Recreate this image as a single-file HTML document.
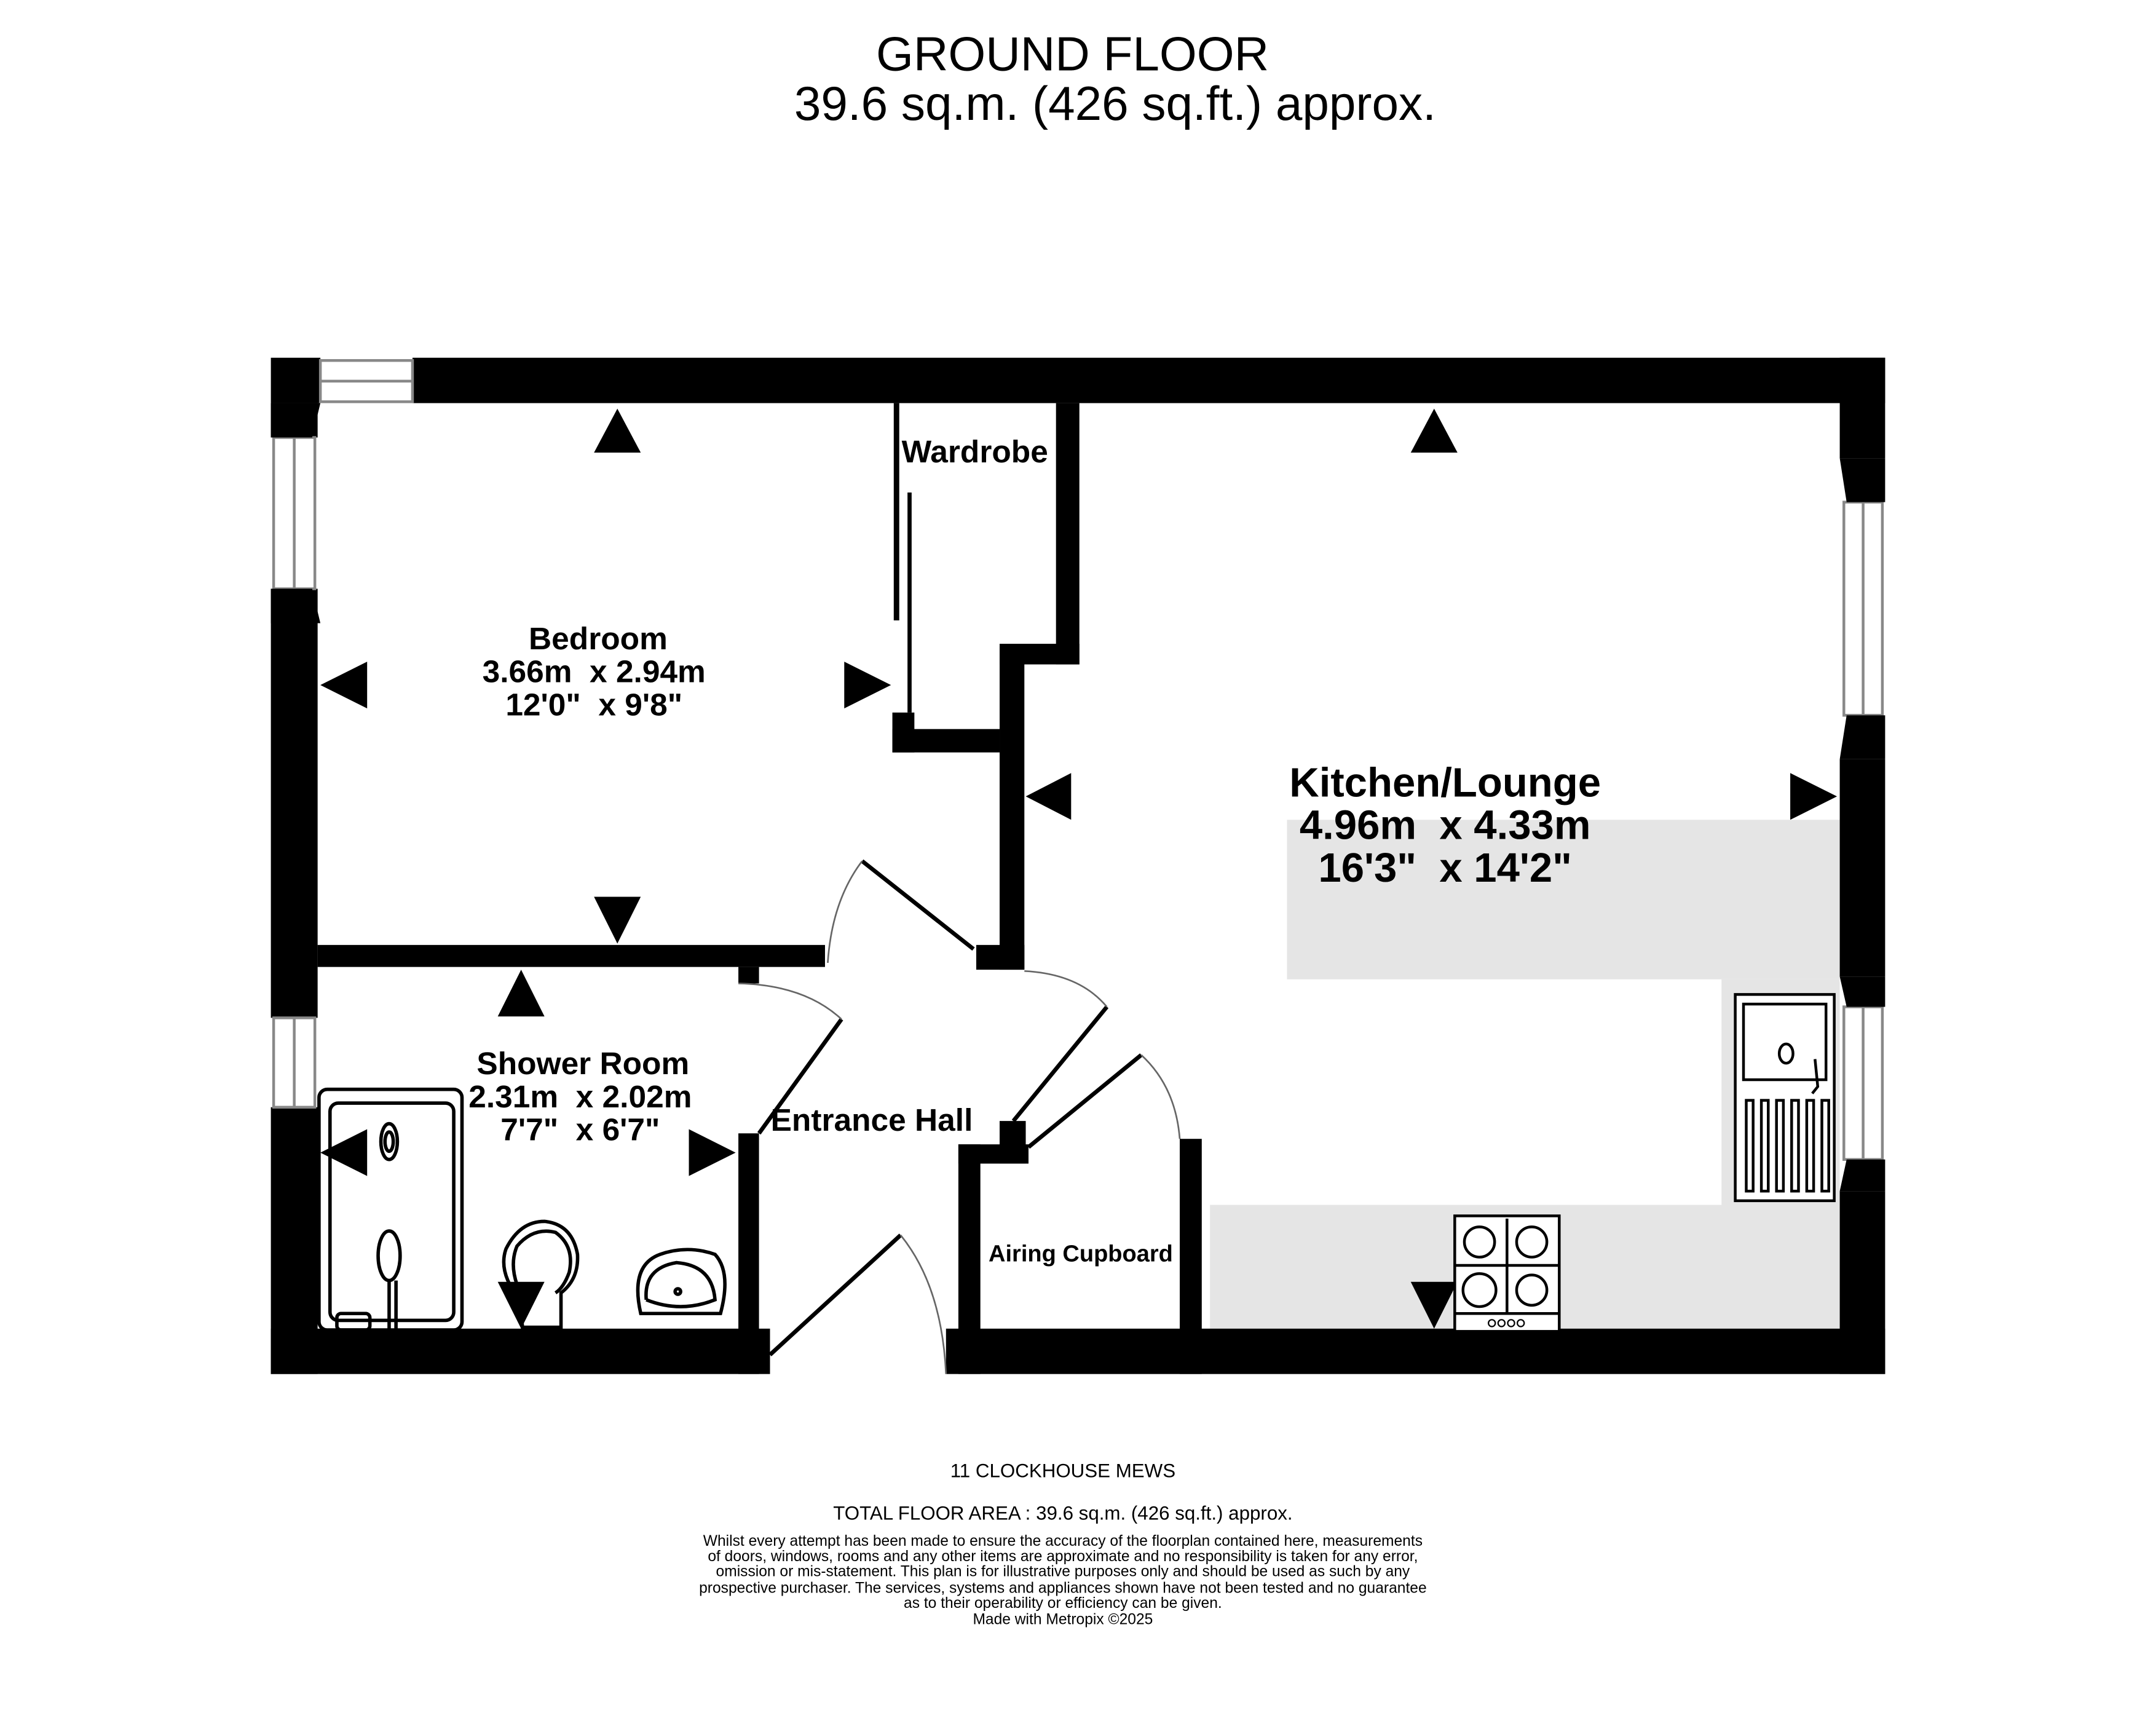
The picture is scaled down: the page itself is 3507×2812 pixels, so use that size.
<!DOCTYPE html>
<html><head><meta charset="utf-8"><style>html,body{margin:0;padding:0;background:#fff}svg{display:block}</style></head>
<body>
<svg width="3507" height="2812" viewBox="0 0 1568 1257" xmlns="http://www.w3.org/2000/svg" font-family="Liberation Sans, sans-serif">
<rect width="1568" height="1257" fill="#fff"/>
<text x="780" y="51" font-size="35" text-anchor="middle">GROUND FLOOR</text>
<text x="811" y="87" font-size="35" text-anchor="middle">39.6 sq.m. (426 sq.ft.) approx.</text>

<g fill="#e5e5e5">
<rect x="936" y="596" width="402" height="116"/>
<rect x="1252" y="712" width="86" height="164"/>
<rect x="880" y="876" width="458" height="90"/>
</g>

<g fill="#000">
<rect x="197" y="260" width="36" height="33"/>
<rect x="300" y="260" width="1071" height="33"/>
<rect x="197" y="293" width="34" height="25"/>
<rect x="197" y="428" width="34" height="312"/>
<rect x="197" y="805" width="34" height="194"/>
<rect x="1338" y="260" width="33" height="73"/>
<rect x="1338" y="552" width="33" height="158"/>
<rect x="1338" y="866" width="33" height="133"/>
<rect x="197" y="966" width="363" height="33"/>
<rect x="688" y="966" width="683" height="33"/>
<rect x="231" y="687" width="369" height="16"/>
<rect x="537" y="703" width="15" height="12"/>
<rect x="727" y="470" width="18" height="235"/>
<rect x="710" y="687" width="35" height="18"/>
<rect x="768" y="293" width="17" height="190"/>
<rect x="727" y="468" width="58" height="15"/>
<rect x="649" y="530" width="78" height="17"/>
<rect x="649" y="518" width="16" height="29"/>
<rect x="650" y="293" width="4" height="158"/>
<rect x="660" y="358" width="3" height="160"/>
<rect x="537" y="824" width="15" height="175"/>
<rect x="697" y="832" width="16" height="167"/>
<rect x="697" y="832" width="51" height="14"/>
<rect x="727" y="815" width="19" height="31"/>
<rect x="858" y="828" width="16" height="171"/>
<polygon points="449,297 432,329 466,329"/>
<polygon points="233,498 267,481 267,515"/>
<polygon points="648,498 614,481 614,515"/>
<polygon points="449,686 432,652 466,652"/>
<polygon points="1043,297 1026,329 1060,329"/>
<polygon points="746,579 779,562 779,596"/>
<polygon points="1336,579 1302,562 1302,596"/>
<polygon points="379,705 362,739 396,739"/>
<polygon points="233,838 267,821 267,855"/>
<polygon points="535,838 501,821 501,855"/>
<polygon points="379,966 362,932 396,932"/>
<polygon points="1043,966 1026,932 1060,932"/>
</g>

<g fill="#fff" stroke="#888" stroke-width="2">
<rect x="233" y="262" width="67" height="30"/>
<line x1="233" y1="277" x2="300" y2="277"/>
<rect x="199" y="318" width="30" height="110"/>
<line x1="214" y1="318" x2="214" y2="428"/>
<rect x="199" y="740" width="30" height="65"/>
<line x1="214" y1="740" x2="214" y2="805"/>
<rect x="1341" y="365" width="28" height="155"/>
<line x1="1355" y1="365" x2="1355" y2="520"/>
<rect x="1341" y="732" width="28" height="111"/>
<line x1="1355" y1="732" x2="1355" y2="843"/>
</g>
<g fill="#000">
<polygon points="197,293 233,293 227,318 197,318"/>
<polygon points="197,428 227,428 233,453 197,453"/>
<polygon points="1338,333 1371,333 1371,365 1343,365"/>
<polygon points="1343,520 1371,520 1371,552 1338,552"/>
<polygon points="1338,710 1371,710 1371,732 1343,732"/>
<polygon points="1343,843 1371,843 1371,866 1338,866"/>
</g>

<g fill="none" stroke="#000" stroke-width="3">
<line x1="627" y1="626" x2="708" y2="690"/>
<line x1="805" y1="732" x2="737" y2="815"/>
<line x1="612" y1="741" x2="552" y2="824"/>
<line x1="655" y1="898" x2="560" y2="985"/>
<line x1="748" y1="834" x2="830" y2="767"/>
</g>
<g fill="none" stroke="#666" stroke-width="1.2">
<path d="M602,700 Q605,655 627,626"/>
<path d="M745,706 Q785,708 805,732"/>
<path d="M537,715 Q585,716 612,741"/>
<path d="M688,999 Q685,935 655,898"/>
<path d="M858,828 Q855,790 830,767"/>
</g>

<g fill="none" stroke="#000" stroke-width="2.5">
<rect x="232" y="792" width="104" height="175" rx="6"/>
<rect x="240" y="802" width="90" height="158" rx="6"/>
<ellipse cx="283" cy="830" rx="6" ry="13"/>
<ellipse cx="283" cy="830" rx="3" ry="7"/>
<ellipse cx="283" cy="913" rx="8" ry="18"/>
<line x1="283" y1="931" x2="283" y2="967"/>
<line x1="288" y1="931" x2="288" y2="967"/>
<rect x="245" y="955" width="24" height="12" rx="3"/>
<path d="M380,965 L378,945 Q362,925 368,908 Q378,888 396,888 Q416,890 420,912 Q421,930 408,940 L408,965 Z"/>
<path d="M384,950 Q368,925 376,906 Q388,892 404,896 Q418,906 414,925 Q410,936 404,940"/>
<path d="M466,955 Q458,920 480,912 Q500,905 520,912 Q532,925 524,955 Z"/>
<path d="M470,945 Q468,922 492,918 Q518,920 520,945 Q495,955 470,945"/>
<circle cx="493" cy="939" r="2"/>
</g>

<g fill="#fff" stroke="#000" stroke-width="2">
<rect x="1262" y="723" width="72" height="150"/>
<rect x="1268" y="730" width="60" height="55" fill="none"/>
<ellipse cx="1299" cy="766" rx="5" ry="7" fill="none"/>
<path d="M1320,770 L1322,790 L1318,795" fill="none"/>
<g fill="none">
<rect x="1270" y="800" width="5" height="66"/>
<rect x="1281" y="800" width="5" height="66"/>
<rect x="1292" y="800" width="5" height="66"/>
<rect x="1303" y="800" width="5" height="66"/>
<rect x="1314" y="800" width="5" height="66"/>
<rect x="1325" y="800" width="5" height="66"/>
</g>
<rect x="1058" y="884" width="76" height="84"/>
<line x1="1058" y1="955" x2="1134" y2="955"/>
<line x1="1096" y1="886" x2="1096" y2="955"/>
<line x1="1058" y1="920" x2="1134" y2="920"/>
<circle cx="1076" cy="903" r="11" fill="none"/>
<circle cx="1114" cy="903" r="11" fill="none"/>
<circle cx="1076" cy="938" r="12" fill="none"/>
<circle cx="1114" cy="938" r="11" fill="none"/>
<circle cx="1085" cy="962" r="2.5" fill="none" stroke-width="1"/>
<circle cx="1092" cy="962" r="2.5" fill="none" stroke-width="1"/>
<circle cx="1099" cy="962" r="2.5" fill="none" stroke-width="1"/>
<circle cx="1106" cy="962" r="2.5" fill="none" stroke-width="1"/>
</g>

<g font-weight="bold" text-anchor="middle" fill="#000">
<text x="709" y="336" font-size="23">Wardrobe</text>
<text x="435" y="472" font-size="23">Bedroom</text>
<text x="432" y="496" font-size="23">3.66m&#160; x 2.94m</text>
<text x="432" y="520" font-size="23">12'0"&#160; x 9'8"</text>
<text x="1051" y="579" font-size="30">Kitchen/Lounge</text>
<text x="1051" y="610" font-size="30">4.96m&#160; x 4.33m</text>
<text x="1051" y="641" font-size="30">16'3"&#160; x 14'2"</text>
<text x="424" y="781" font-size="23">Shower Room</text>
<text x="422" y="805" font-size="23">2.31m&#160; x 2.02m</text>
<text x="422" y="829" font-size="23">7'7"&#160; x 6'7"</text>
<text x="634" y="822" font-size="23">Entrance Hall</text>
<text x="786" y="917" font-size="17">Airing Cupboard</text>
</g>

<g text-anchor="middle" fill="#000" font-size="14">
<text x="773" y="1074">11 CLOCKHOUSE MEWS</text>
<text x="773" y="1105">TOTAL FLOOR AREA : 39.6 sq.m. (426 sq.ft.) approx.</text>
<g font-size="11">
<text x="773" y="1124">Whilst every attempt has been made to ensure the accuracy of the floorplan contained here, measurements</text>
<text x="773" y="1135">of doors, windows, rooms and any other items are approximate and no responsibility is taken for any error,</text>
<text x="773" y="1146">omission or mis-statement. This plan is for illustrative purposes only and should be used as such by any</text>
<text x="773" y="1158">prospective purchaser. The services, systems and appliances shown have not been tested and no guarantee</text>
<text x="773" y="1169">as to their operability or efficiency can be given.</text>
<text x="773" y="1181">Made with Metropix ©2025</text>
</g>
</g>
</svg>
</body></html>
